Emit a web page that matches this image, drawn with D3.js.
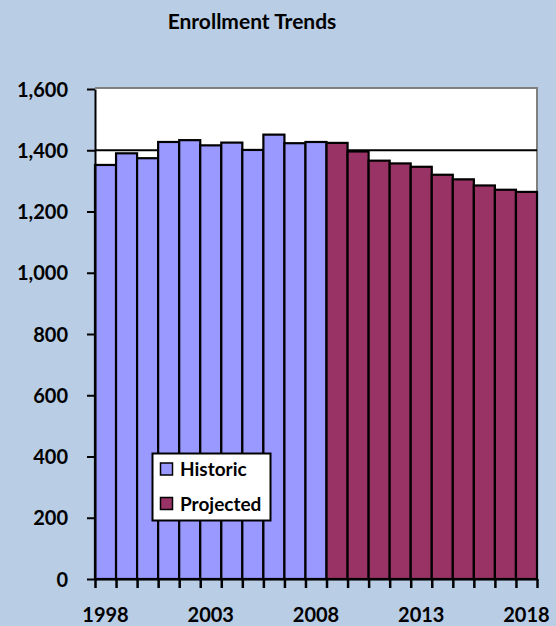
<!DOCTYPE html>
<html>
<head>
<meta charset="utf-8">
<script src="https://cdn.jsdelivr.net/npm/d3@7"></script>
<style>
  html, body { margin: 0; padding: 0; background: #b9cde5; }
  svg { display: block; }
  text { font-family: Lato, "Open Sans", sans-serif; font-weight: bold; fill: #000; }
</style>
</head>
<body>
<svg id="chart" width="556" height="626"></svg>
<script>
const years = d3.range(1998, 2019);
const historicYears = [1998, 1999, 2000, 2001, 2002, 2003, 2004, 2005, 2006, 2007, 2008];
const historicValues = [1352, 1390, 1374, 1427, 1433, 1416, 1425, 1401, 1451, 1423, 1427];
const projectedYears = [2009, 2010, 2011, 2012, 2013, 2014, 2015, 2016, 2017, 2018];
const projectedValues = [1424, 1396, 1366, 1357, 1346, 1320, 1305, 1285, 1271, 1264];
const yTicks = [0, 200, 400, 600, 800, 1000, 1200, 1400, 1600];
const xLabelYears = [1998, 2003, 2008, 2013, 2018];
const gridValues = [1400];
const seriesNames = ["Historic", "Projected"];
const colors = { Historic: "#9999ff", Projected: "#993366" };

const svg = d3.select("#chart");
const pLeft = 95, pRight = 537, pTop = 89, pBottom = 579;

const x = d3.scaleBand().domain(years).range([pLeft, pRight]).padding(0);
const y = d3.scaleLinear().domain([0, 1600]).range([pBottom, pTop]);

// Plot area background
svg.append("rect").attr("x", pLeft).attr("y", pTop).attr("width", pRight - pLeft).attr("height", pBottom - pTop)
  .attr("fill", "#ffffff");

// grey top/right frame
svg.append("path")
  .attr("d", `M${pLeft},${pTop - 1}H${pRight}V${pBottom}`)
  .attr("fill", "none").attr("stroke", "#808080").attr("stroke-width", 2);

// gridline
svg.selectAll("line.grid").data(gridValues).enter().append("line")
  .attr("x1", pLeft).attr("x2", pRight)
  .attr("y1", d => y(d)).attr("y2", d => y(d))
  .attr("stroke", "#000").attr("stroke-width", 2);

const data = historicYears.map((yr, i) => ({ year: yr, value: historicValues[i], s: "Historic" }))
  .concat(projectedYears.map((yr, i) => ({ year: yr, value: projectedValues[i], s: "Projected" })));

svg.selectAll("rect.bar").data(data).enter().append("rect")
  .attr("class", "bar")
  .attr("x", d => x(d.year))
  .attr("width", x.bandwidth())
  .attr("y", d => y(d.value))
  .attr("height", d => y(0) - y(d.value))
  .attr("fill", d => colors[d.s])
  .attr("stroke", "#000").attr("stroke-width", 2.2);

// Y axis
const yAxis = svg.append("g").attr("transform", `translate(${pLeft},0)`)
  .call(d3.axisLeft(y).tickValues(yTicks).tickFormat(d3.format(",")).tickSize(8).tickSizeOuter(0).tickPadding(19));
yAxis.select(".domain").attr("stroke", "#000").attr("stroke-width", 2);
yAxis.selectAll(".tick line").attr("stroke", "#000").attr("stroke-width", 2);
yAxis.selectAll(".tick text").attr("font-size", 20).attr("font-family", "Lato").attr("font-weight", "bold").attr("dy", "0.36em");

// X axis ticks at band boundaries
const xb = d3.scaleLinear().domain([1997.5, 2018.5]).range([pLeft, pRight]);
const xAxis = svg.append("g").attr("transform", `translate(0,${pBottom})`)
  .call(d3.axisBottom(xb).tickValues(d3.range(1997.5, 2019, 1)).tickFormat("").tickSize(9).tickSizeOuter(0));
xAxis.select(".domain").attr("stroke", "#000").attr("stroke-width", 2);
xAxis.selectAll(".tick line").attr("stroke", "#000").attr("stroke-width", 2.5);

// X labels
const xLab = svg.append("g").attr("transform", `translate(0,${pBottom})`)
  .call(d3.axisBottom(x).tickValues(xLabelYears).tickSize(0).tickPadding(28.5));
xLab.select(".domain").remove();
xLab.selectAll(".tick text").attr("font-size", 20).attr("font-family", "Lato").attr("font-weight", "bold");

// Title
svg.append("text").attr("x", 252).attr("y", 29).attr("text-anchor", "middle")
  .attr("font-size", 21).text("Enrollment Trends");

// Legend
const lg = svg.append("g");
lg.append("rect").attr("x", 152.5).attr("y", 453.5).attr("width", 118).attr("height", 67)
  .attr("fill", "#fff").attr("stroke", "#000").attr("stroke-width", 2);
const items = lg.selectAll("g.item").data(seriesNames).enter().append("g")
  .attr("transform", (d, i) => `translate(0,${i * 34.5})`);
items.append("rect").attr("x", 160.5).attr("y", 463).attr("width", 12).attr("height", 12)
  .attr("fill", d => colors[d]).attr("stroke", "#000").attr("stroke-width", 1.5);
items.append("text").attr("x", 180).attr("y", 476).attr("font-size", 19).text(d => d);
</script>
</body>
</html>
